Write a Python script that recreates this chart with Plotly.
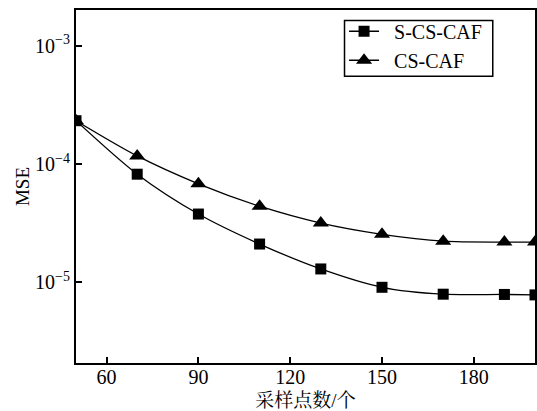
import plotly.graph_objects as go

# Number of sampling points
samples = [50, 70, 90, 110, 130, 150, 170, 190, 200]

# MSE for each method
mse_s_cs_caf = [2.32e-4, 8.2e-5, 3.78e-5, 2.11e-5, 1.30e-5, 9.1e-6, 7.96e-6, 7.92e-6, 7.85e-6]
mse_cs_caf = [2.32e-4, 1.17e-4, 6.8e-5, 4.4e-5, 3.17e-5, 2.55e-5, 2.23e-5, 2.19e-5, 2.19e-5]

series_names = ["S-CS-CAF", "CS-CAF"]
x_ticks = [60, 90, 120, 150, 180]
y_ticks = [1e-5, 1e-4, 1e-3]
y_tick_text = ["10<sup>−5</sup>", "10<sup>−4</sup>", "10<sup>−3</sup>"]

font_family = "Liberation Serif, Times New Roman, Noto Serif CJK SC, Noto Sans CJK SC, serif"

fig = go.Figure()
fig.add_trace(go.Scatter(
    x=samples, y=mse_s_cs_caf, name="\u00a0\u00a0" + series_names[0],
    mode="lines+markers",
    line=dict(color="black", width=1.3, shape="spline", smoothing=0.8),
    marker=dict(symbol="square", size=11, color="black"),
))
fig.add_trace(go.Scatter(
    x=samples, y=mse_cs_caf, name="\u00a0\u00a0" + series_names[1],
    mode="lines+markers",
    line=dict(color="black", width=1.3, shape="spline", smoothing=0.8),
    marker=dict(symbol="triangle-up", size=14, color="black"),
))

fig.update_layout(
    width=537, height=411,
    margin=dict(l=76, r=2, t=10, b=48, autoexpand=False),
    paper_bgcolor="white", plot_bgcolor="white",
    font=dict(family=font_family, size=19, color="black"),
    showlegend=True,
    legend=dict(
        x=0.584, y=0.995, xanchor="left", yanchor="top",
        bgcolor="rgba(0,0,0,0)", borderwidth=0,
        font=dict(size=20), tracegroupgap=0, itemsizing="trace",
    ),
    # frame drawn around the legend entries
    shapes=[dict(
        type="rect", xref="paper", yref="paper",
        x0=0.585, x1=0.908, y0=0.8125, y1=0.970,
        line=dict(color="black", width=1.5), fillcolor="white", layer="below",
    )],
)

fig.update_xaxes(
    range=[50, 200], tickvals=x_ticks, automargin=False,
    ticks="inside", ticklen=6, tickwidth=1.5, tickcolor="black",
    ticklabelstandoff=-5, tickfont=dict(size=20),
    showline=True, linecolor="black", linewidth=2, mirror=True,
    showgrid=False, zeroline=False,
    title=dict(text="采样点数/个", standoff=10, font=dict(size=19)),
)
fig.update_yaxes(
    type="log", range=[-5.68, -2.70], automargin=False,
    tickvals=y_ticks, ticktext=y_tick_text, tickfont=dict(size=20),
    ticks="inside", ticklen=6, tickwidth=1.5, tickcolor="black",
    showline=True, linecolor="black", linewidth=2, mirror=True,
    showgrid=False, zeroline=False,
    title=dict(text="MSE", standoff=0, font=dict(size=19)),
)

fig.write_html("out.html")
